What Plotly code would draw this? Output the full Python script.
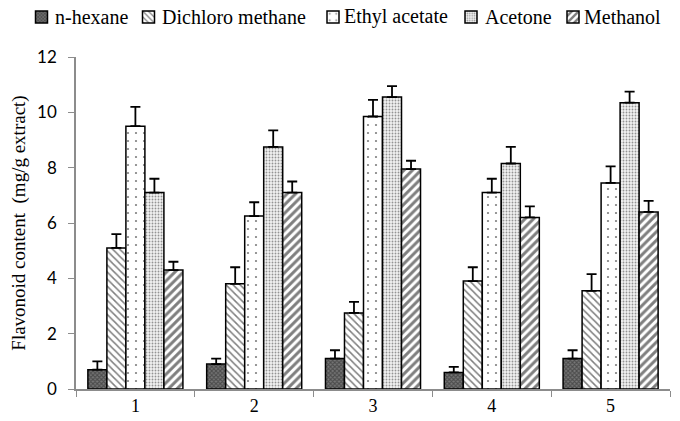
import plotly.graph_objects as go

categories = ["1", "2", "3", "4", "5"]
solvents = ["n-hexane", "Dichloro methane", "Ethyl acetate", "Acetone", "Methanol"]
n_hexane = [0.7, 0.9, 1.1, 0.6, 1.1]
n_hexane_err = [0.3, 0.2, 0.3, 0.2, 0.3]
dcm = [5.1, 3.8, 2.75, 3.9, 3.55]
dcm_err = [0.5, 0.6, 0.4, 0.5, 0.6]
ethyl = [9.5, 6.25, 9.85, 7.1, 7.45]
ethyl_err = [0.7, 0.5, 0.6, 0.5, 0.6]
acetone = [7.1, 8.75, 10.55, 8.15, 10.35]
acetone_err = [0.5, 0.6, 0.4, 0.6, 0.4]
methanol = [4.3, 7.1, 7.95, 6.2, 6.4]
methanol_err = [0.3, 0.4, 0.3, 0.4, 0.4]

values = [n_hexane, dcm, ethyl, acetone, methanol]
errors = [n_hexane_err, dcm_err, ethyl_err, acetone_err, methanol_err]
patterns = [
    dict(shape="x", size=3, solidity=0.6, fgcolor="#222", bgcolor="#777"),
    dict(shape="\\", size=5, solidity=0.3, fgcolor="black", bgcolor="white"),
    dict(shape=".", size=8, solidity=0.06, fgcolor="black", bgcolor="white"),
    dict(shape=".", size=3, solidity=0.3, fgcolor="#333", bgcolor="#f2f2f2"),
    dict(shape="/", size=6, solidity=0.5, fgcolor="black", bgcolor="white"),
]

# legend layout (paper coords spanning the full figure width)
legend_sym_x = [0.02009, 0.17932, 0.45387, 0.65923, 0.81101]
legend_txt_x = [0.06696, 0.22619, 0.49702, 0.70685, 0.85417]
legend_y = 1.1205

fig = go.Figure()
for i, (name, v, e, p) in enumerate(zip(solvents, values, errors, patterns)):
    fig.add_trace(go.Bar(
        name="", x=categories, y=v, legend=f"legend{i + 2}", hovertext=name,
        marker=dict(color="white", pattern=p, line=dict(color="black", width=1.5)),
        error_y=dict(type="data", array=e, arrayminus=[0] * len(e), symmetric=False,
                     color="black", thickness=1.8, width=5),
    ))

legend_layout = {}
for i in range(len(solvents)):
    legend_layout[f"legend{i + 2}"] = dict(
        x=legend_sym_x[i], xanchor="left", y=legend_y, yanchor="middle",
        font=dict(size=12), bgcolor="rgba(0,0,0,0)", borderwidth=0)
    fig.add_annotation(text=solvents[i], xref="paper", yref="paper",
                       x=legend_txt_x[i], y=legend_y, xanchor="left",
                       yanchor="middle", showarrow=False,
                       font=dict(family="Liberation Serif", size=20, color="black"))

fig.update_layout(
    width=672, height=413,
    barmode="group", bargap=0.2, bargroupgap=0,
    plot_bgcolor="white", paper_bgcolor="white",
    font=dict(family="Liberation Serif", size=18, color="black"),
    margin=dict(l=0, r=0, t=49, b=32, autoexpand=False),
    **legend_layout,
    xaxis=dict(domain=[68 / 672, 662 / 672],
               showline=True, linecolor="#8c8c8c", linewidth=1.5, ticks="outside",
               tickson="boundaries", tickcolor="#8c8c8c", ticklen=6,
               tickfont=dict(family="Liberation Serif", size=18), automargin=False),
    yaxis=dict(range=[0, 12], dtick=2, showline=True, linecolor="#8c8c8c", linewidth=1.5,
               ticks="outside", tickcolor="#8c8c8c", ticklen=6, showgrid=False,
               zeroline=False, tickfont=dict(family="Lato", size=17),
               ticklabelstandoff=8, automargin=False,
               title=dict(text="Flavonoid content  (mg/g extract)",
                          font=dict(family="Liberation Serif", size=19),
                          standoff=14)),
)

fig.write_html("out.html")
